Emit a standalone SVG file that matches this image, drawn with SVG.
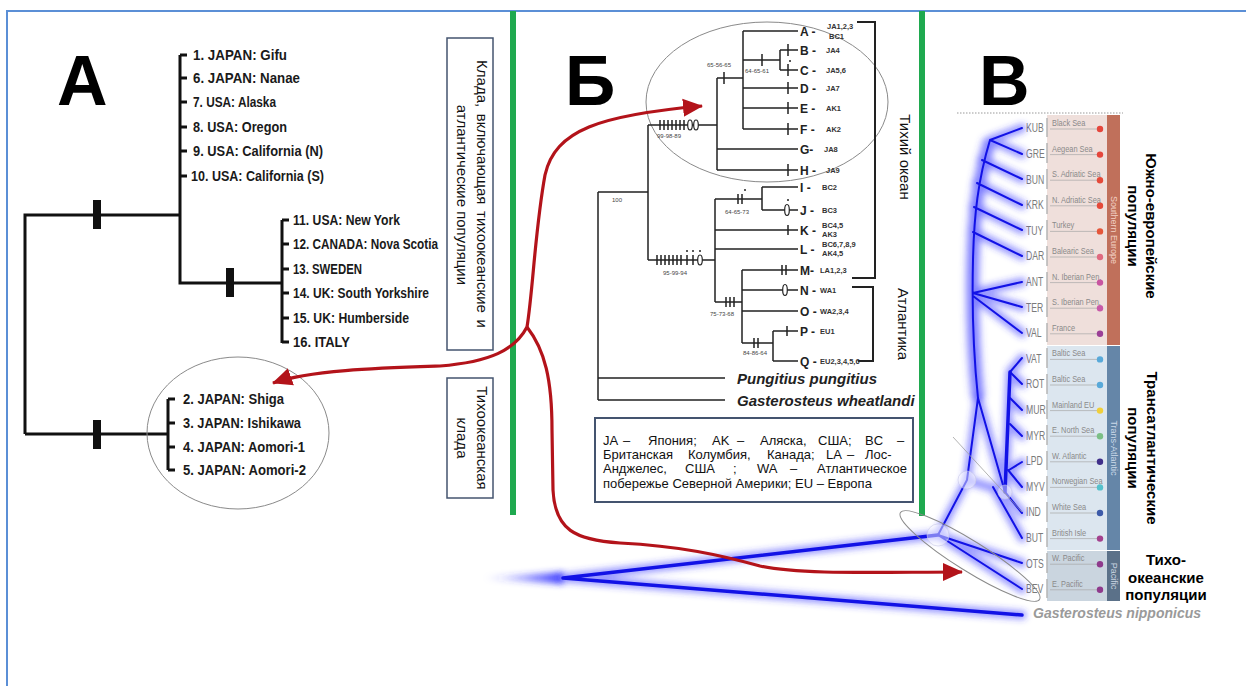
<svg xmlns="http://www.w3.org/2000/svg" width="1246" height="686" viewBox="0 0 1246 686">
<style>
.frame{fill:none;stroke:#5b8fd6;stroke-width:2}
.green{stroke:#1fa94f;stroke-width:6}
.ta{fill:none;stroke:#111;stroke-width:3}
.bar{fill:#111}
.la{font-family:"Liberation Sans",Arial,sans-serif;font-weight:bold;font-size:14px;fill:#1a1a1a}
.big{font-family:"Liberation Sans",Arial,sans-serif;font-weight:bold;font-size:70px;fill:#000}
.box{fill:#fff;stroke:#44546f;stroke-width:1.5}
.vt{font-family:"Liberation Sans",Arial,sans-serif;font-size:15px;fill:#111;text-anchor:middle}
.vtb{font-family:"Liberation Sans",Arial,sans-serif;font-size:15px;font-weight:bold;fill:#000;text-anchor:middle}
.tb{fill:none;stroke:#222;stroke-width:1.5}
.brk{fill:none;stroke:#222;stroke-width:2}
.ov{fill:#fff;stroke:#222;stroke-width:1.2}
.leaf{font-family:"Liberation Sans",Arial,sans-serif;font-weight:bold;font-size:12px;fill:#222}
.code{font-family:"Liberation Sans",Arial,sans-serif;font-weight:bold;font-size:7.5px;fill:#333}
.boot{font-family:"Liberation Sans",Arial,sans-serif;font-size:6px;fill:#444}
.sp{font-family:"Liberation Sans",Arial,sans-serif;font-weight:bold;font-style:italic;font-size:15px;fill:#222}
.leg{font-family:"Liberation Sans",Arial,sans-serif;font-size:13px;fill:#111}
.ell{fill:none;stroke:#8a8a8a;stroke-width:1}
.red{fill:none;stroke:#b3131a;stroke-width:3.2}
.glow{fill:none;stroke:#3a3aff;stroke-width:9;stroke-opacity:.5;stroke-linecap:round}
.core{fill:none;stroke:#1212e6;stroke-width:2;stroke-linecap:round}
.cthick{fill:none;stroke:#1212e6;stroke-width:3.5;stroke-linecap:round}
.cd{font-family:"Liberation Sans",Arial,sans-serif;font-size:12px;fill:#7a7a7a}
.sea{font-family:"Liberation Sans",Arial,sans-serif;font-size:9.5px;fill:#8a8a8a}
.bartxt{font-family:"Liberation Sans",Arial,sans-serif;font-size:9px;text-anchor:middle}
.uline{stroke:#a8a8a8;stroke-width:.7}
.cdiv{stroke:#b5b5b5;stroke-width:1.5}
</style>
<defs>
<marker id="ah" markerUnits="userSpaceOnUse" markerWidth="22" markerHeight="22" viewBox="0 0 22 22" refX="19" refY="11" orient="auto">
<path d="M0,2 L20,11 L0,20 z" fill="#b3131a"/>
</marker>
<filter id="blur" filterUnits="userSpaceOnUse" x="400" y="80" width="720" height="580">
<feGaussianBlur stdDeviation="3.2"/>
</filter>
<linearGradient id="tail" x1="481" y1="0" x2="563" y2="0" gradientUnits="userSpaceOnUse">
<stop offset="0" stop-color="#3a3aff" stop-opacity="0"/>
<stop offset="1" stop-color="#2a2aff" stop-opacity=".9"/>
</linearGradient>
</defs>
<rect x="0" y="0" width="1246" height="686" fill="#fff"/>
<path class="frame" d="M7,690 V11 H1250"/>
<g id="dividers">
<line class="green" x1="513" y1="11" x2="513" y2="515"/>
<line class="green" x1="922" y1="11" x2="922" y2="516"/>
</g>

<g id="panelA">
<text class="big" x="57" y="105">А</text>
<path class="ta" d="M25,434 V215 H180 M180,55 V283 H282 M282,220 V343 M25,434 H168 M168,399 V470"/>
<path class="ta" d="M180,55 H187 M180,78 H187 M180,102 H187 M180,127 H187 M180,151 H187 M180,176 H187 M282,220 H289 M282,244 H289 M282,269 H289 M282,293 H289 M282,318 H289 M282,342 H289 M168,399 H175 M168,423 H175 M168,447 H175 M168,470 H175"/>
<rect class="bar" x="93" y="200" width="8" height="29"/>
<rect class="bar" x="226" y="268" width="8" height="29"/>
<rect class="bar" x="93" y="420" width="8" height="29"/>
<g id="a-upper">
<text class="la" x="193" y="60" textLength="94" lengthAdjust="spacingAndGlyphs">1. JAPAN: Gifu</text>
<text class="la" x="193" y="83" textLength="107" lengthAdjust="spacingAndGlyphs">6. JAPAN: Nanae</text>
<text class="la" x="193" y="107" textLength="83" lengthAdjust="spacingAndGlyphs">7. USA: Alaska</text>
<text class="la" x="193" y="132" textLength="94" lengthAdjust="spacingAndGlyphs">8. USA: Oregon</text>
<text class="la" x="193" y="156" textLength="130" lengthAdjust="spacingAndGlyphs">9. USA: California (N)</text>
<text class="la" x="191" y="181" textLength="133" lengthAdjust="spacingAndGlyphs">10. USA: California (S)</text>
</g>
<g id="a-atlantic">
<text class="la" x="293" y="225" textLength="107" lengthAdjust="spacingAndGlyphs">11. USA: New York</text>
<text class="la" x="293" y="249" textLength="145" lengthAdjust="spacingAndGlyphs">12. CANADA: Nova Scotia</text>
<text class="la" x="293" y="274" textLength="69" lengthAdjust="spacingAndGlyphs">13. SWEDEN</text>
<text class="la" x="293" y="298" textLength="136" lengthAdjust="spacingAndGlyphs">14. UK: South Yorkshire</text>
<text class="la" x="293" y="323" textLength="116" lengthAdjust="spacingAndGlyphs">15. UK: Humberside</text>
<text class="la" x="293" y="347" textLength="57" lengthAdjust="spacingAndGlyphs">16. ITALY</text>
</g>
<g id="a-japan">
<ellipse class="ell" cx="238" cy="433" rx="91" ry="76"/>
<text class="la" x="183" y="404" textLength="101" lengthAdjust="spacingAndGlyphs">2. JAPAN: Shiga</text>
<text class="la" x="183" y="428" textLength="118" lengthAdjust="spacingAndGlyphs">3. JAPAN: Ishikawa</text>
<text class="la" x="183" y="452" textLength="122" lengthAdjust="spacingAndGlyphs">4. JAPAN: Aomori-1</text>
<text class="la" x="183" y="475" textLength="123" lengthAdjust="spacingAndGlyphs">5. JAPAN: Aomori-2</text>
</g>
</g>

<g id="boxClade1">
<rect class="box" x="447" y="38" width="46" height="312"/>
<text class="vt" transform="translate(476.7,194) rotate(90)" word-spacing="2.5">Клада, включающая тихоокеанские и</text>
<text class="vt" transform="translate(456.7,195) rotate(90)">атлантические популяции</text>
</g>
<g id="boxClade2">
<rect class="box" x="447" y="378" width="46" height="120"/>
<text class="vt" transform="translate(476.7,438) rotate(90)">Тихоокеанская</text>
<text class="vt" transform="translate(456.7,438) rotate(90)">клада</text>
</g>

<g id="panelB">
<text class="big" x="565" y="105">Б</text>
<ellipse class="ell" cx="767" cy="102" rx="121" ry="80"/>
<path class="tb" d="M598,192 V400 M598,192 H648 M648,125 V260 M648,125 H717 M717,78 V170 M717,78 H743 M743,31 V129 M743,31 H798 M743,60 H780 M780,50 V70 M780,50 H798 M780,70 H798 M743,88 H798 M743,108 H798 M743,129 H798 M717,149 H798 M717,170 H798"/>
<path class="tb" d="M660,120 V130 M664,120 V130 M668,120 V130 M672,120 V130 M676,120 V130 M680,120 V130 M684,120 V130 M724,72 V84 M762,54 V66 M788,44 V56 M788,64 V76 M788,82 V94 M788,102 V114 M788,123 V135 M788,164 V176"/>
<ellipse class="ov" cx="690" cy="125" rx="2.3" ry="5"/>
<ellipse class="ov" cx="696" cy="125" rx="2.3" ry="5"/>
<circle cx="790" cy="61" r="1" fill="#222"/>
<path class="tb" d="M648,260 H715 M715,199 V302 M715,199 H762 M762,187 V210 M762,187 H798 M762,210 H798 M715,230 H798 M715,249 H798 M715,302 H742 M742,270 V343 M742,270 H798 M742,290 H798 M742,311 H798 M742,343 H773 M773,331 V361 M773,331 H798 M773,361 H798 M598,378 H725 M598,400 H725"/>
<path class="tb" d="M657,255 V265 M661,255 V265 M665,255 V265 M669,255 V265 M673,255 V265 M677,255 V265 M681,255 V265 M687,255 V265 M693,255 V265 M738,194 V204 M742,194 V204 M788,225 V235 M726,297 V307 M730,297 V307 M734,297 V307 M782,265 V275 M786,265 V275 M754,338 V348 M758,338 V348 M787,326 V336"/>
<ellipse class="ov" cx="700" cy="260" rx="2.3" ry="5"/>
<ellipse class="ov" cx="787" cy="210" rx="2.3" ry="5.5"/>
<ellipse class="ov" cx="785" cy="290" rx="2.3" ry="5.5"/>
<circle cx="687" cy="251" r="1" fill="#222"/>
<circle cx="693" cy="251" r="1" fill="#222"/>
<circle cx="700" cy="251" r="1" fill="#222"/>
<circle cx="745" cy="190" r="1" fill="#222"/>
<circle cx="788" cy="200" r="1" fill="#222"/>
<polyline class="brk" points="857,22 875,22 875,278 852,278"/>
<polyline class="brk" points="852,287 873,287 873,361 858,361"/>
<g id="b-boot">
<text class="boot" x="657" y="138">99-98-89</text>
<text class="boot" x="707" y="67">65-56-65</text>
<text class="boot" x="745" y="73">64-65-61</text>
<text class="boot" x="612" y="202">100</text>
<text class="boot" x="725" y="214">64-65-73</text>
<text class="boot" x="663" y="275">95-99-94</text>
<text class="boot" x="710" y="316">75-73-68</text>
<text class="boot" x="743" y="355">84-86-64</text>
</g>
<g id="b-leaves">
<text class="leaf" x="800" y="35.5">A -</text><text class="code" x="827" y="29">JA1,2,3</text><text class="code" x="829" y="39">BC1</text>
<text class="leaf" x="800" y="54.5">B -</text><text class="code" x="826" y="53">JA4</text>
<text class="leaf" x="800" y="74.5">C -</text><text class="code" x="826" y="73">JA5,6</text>
<text class="leaf" x="800" y="92.5">D -</text><text class="code" x="826" y="91">JA7</text>
<text class="leaf" x="800" y="112.5">E -</text><text class="code" x="826" y="111">AK1</text>
<text class="leaf" x="800" y="133.5">F -</text><text class="code" x="826" y="132">AK2</text>
<text class="leaf" x="800" y="153.5">G-</text><text class="code" x="824" y="152">JA8</text>
<text class="leaf" x="800" y="174.5">H -</text><text class="code" x="826" y="173">JA9</text>
<text class="leaf" x="800" y="191.5">I -</text><text class="code" x="822" y="190">BC2</text>
<text class="leaf" x="800" y="214.5">J -</text><text class="code" x="822" y="213">BC3</text>
<text class="leaf" x="800" y="234.5">K -</text><text class="code" x="822" y="228">BC4,5</text><text class="code" x="822" y="237">AK3</text>
<text class="leaf" x="800" y="253.5">L -</text><text class="code" x="822" y="247">BC6,7,8,9</text><text class="code" x="822" y="256">AK4,5</text>
<text class="leaf" x="800" y="274.5">M-</text><text class="code" x="820" y="273">LA1,2,3</text>
<text class="leaf" x="800" y="294.5">N -</text><text class="code" x="820" y="293">WA1</text>
<text class="leaf" x="800" y="315.5">O -</text><text class="code" x="820" y="314">WA2,3,4</text>
<text class="leaf" x="800" y="335.5">P -</text><text class="code" x="820" y="334">EU1</text>
<text class="leaf" x="800" y="365.5">Q -</text><text class="code" x="820" y="364">EU2,3,4,5,6</text>
</g>
<text class="sp" x="737" y="384">Pungitius pungitius</text>
<text class="sp" x="737" y="406">Gasterosteus wheatlandi</text>
<text class="vt" transform="translate(900,157) rotate(90)">Тихий океан</text>
<text class="vt" transform="translate(898,324) rotate(90)">Атлантика</text>
</g>

<g id="legend">
<rect x="595" y="418" width="318" height="84" fill="#fff" stroke="#44546f" stroke-width="2"/>
<text class="leg" y="444.5"><tspan x="603">JA</tspan><tspan x="623">–</tspan><tspan x="648">Япония;</tspan><tspan x="712">AK</tspan><tspan x="737">–</tspan><tspan x="760">Аляска,</tspan><tspan x="818">США;</tspan><tspan x="865">BC</tspan><tspan x="897">–</tspan></text>
<text class="leg" y="458.5"><tspan x="603">Британская</tspan><tspan x="688">Колумбия,</tspan><tspan x="767">Канада;</tspan><tspan x="826">LA</tspan><tspan x="847">–</tspan><tspan x="865">Лос-</tspan></text>
<text class="leg" y="473"><tspan x="603">Анджелес,</tspan><tspan x="685">США</tspan><tspan x="733">;</tspan><tspan x="757">WA</tspan><tspan x="790">–</tspan><tspan x="817">Атлантическое</tspan></text>
<text class="leg" x="603" y="487.5">побережье Северной Америки; EU – Европа</text>
</g>

<g id="panelV">
<text class="big" x="979" y="105">В</text>
<line x1="957" y1="113" x2="1123" y2="113" stroke="#999" stroke-width="1" stroke-dasharray="1.5 1.5"/>
<g id="v-table">
<rect x="1047" y="115" width="60" height="230" fill="#efdfdb"/>
<rect x="1047" y="346" width="60" height="204" fill="#dce6ef"/>
<rect x="1047" y="551" width="60" height="50" fill="#cad5df"/>
<rect x="1107" y="115" width="13" height="230" fill="#c0705b"/>
<rect x="1107" y="346" width="13" height="204" fill="#6586a8"/>
<rect x="1107" y="551" width="13" height="50" fill="#5b7189"/>
<text class="bartxt" fill="#f4d2c6" transform="translate(1110.5,230) rotate(90)">Southern Europe</text>
<text class="bartxt" fill="#cbd9e8" transform="translate(1110.5,448) rotate(90)">Trans-Atlantic</text>
<text class="bartxt" fill="#c9d4e0" transform="translate(1110.5,576) rotate(90)">Pacific</text>
<path class="cdiv" d="M1047,118 V137 M1047,143 V163 M1047,169 V189 M1047,195 V214 M1047,220 V240 M1047,246 V266 M1047,272 V291 M1047,297 V317 M1047,323 V342 M1047,348 V368 M1047,374 V394 M1047,400 V419 M1047,425 V445 M1047,451 V470 M1047,476 V496 M1047,502 V522 M1047,528 V547 M1047,553 V573 M1047,579 V598"/>
<path class="uline" d="M1050,129 H1097 M1050,154.6 H1097 M1050,180.2 H1097 M1050,205.8 H1097 M1050,231.4 H1097 M1050,257 H1097 M1050,282.6 H1097 M1050,308.2 H1097 M1050,333.8 H1097 M1050,359.4 H1097 M1050,385 H1097 M1050,410.6 H1097 M1050,436.2 H1097 M1050,461.8 H1097 M1050,487.4 H1097 M1050,513 H1097 M1050,538.6 H1097 M1050,564.2 H1097 M1050,589.8 H1097"/>
<g transform="translate(1052,0) scale(0.78,1)">
<text class="sea" x="0" y="126">Black Sea</text>
<text class="sea" x="0" y="151.6">Aegean Sea</text>
<text class="sea" x="0" y="177.2">S. Adriatic Sea</text>
<text class="sea" x="0" y="202.8">N. Adriatic Sea</text>
<text class="sea" x="0" y="228.4">Turkey</text>
<text class="sea" x="0" y="254">Balearic Sea</text>
<text class="sea" x="0" y="279.6">N. Iberian Pen.</text>
<text class="sea" x="0" y="305.2">S. Iberian Pen.</text>
<text class="sea" x="0" y="330.8">France</text>
<text class="sea" x="0" y="356.4">Baltic Sea</text>
<text class="sea" x="0" y="382">Baltic Sea</text>
<text class="sea" x="0" y="407.6">Mainland EU</text>
<text class="sea" x="0" y="433.2">E. North Sea</text>
<text class="sea" x="0" y="458.8">W. Atlantic</text>
<text class="sea" x="0" y="484.4">Norwegian Sea</text>
<text class="sea" x="0" y="510">White Sea</text>
<text class="sea" x="0" y="535.6">British Isle</text>
<text class="sea" x="0" y="561.2">W. Pacific</text>
<text class="sea" x="0" y="586.8">E. Pacific</text>
</g>
<g transform="translate(1026,0) scale(0.72,1)">
<text class="cd" x="0" y="132.5">KUB</text>
<text class="cd" x="0" y="158.1">GRE</text>
<text class="cd" x="0" y="183.7">BUN</text>
<text class="cd" x="0" y="209.3">KRK</text>
<text class="cd" x="0" y="234.9">TUY</text>
<text class="cd" x="0" y="260.5">DAR</text>
<text class="cd" x="0" y="286.1">ANT</text>
<text class="cd" x="0" y="311.7">TER</text>
<text class="cd" x="0" y="337.3">VAL</text>
<text class="cd" x="0" y="362.9">VAT</text>
<text class="cd" x="0" y="388.5">ROT</text>
<text class="cd" x="0" y="414.1">MUR</text>
<text class="cd" x="0" y="439.7">MYR</text>
<text class="cd" x="0" y="465.3">LPD</text>
<text class="cd" x="0" y="490.9">MYV</text>
<text class="cd" x="0" y="516.5">IND</text>
<text class="cd" x="0" y="542.1">BUT</text>
<text class="cd" x="0" y="567.7">OTS</text>
<text class="cd" x="0" y="593.3">BEV</text>
</g>
<g id="v-dots">
<circle cx="1100" cy="129" r="3.2" fill="#e5463c"/>
<circle cx="1100" cy="154.6" r="3.2" fill="#e5463c"/>
<circle cx="1100" cy="180.2" r="3.2" fill="#e54a3a"/>
<circle cx="1100" cy="205.8" r="3.2" fill="#e54a3a"/>
<circle cx="1100" cy="231.4" r="3.2" fill="#e5563a"/>
<circle cx="1100" cy="257" r="3.2" fill="#e06a80"/>
<circle cx="1100" cy="282.6" r="3.2" fill="#c855a0"/>
<circle cx="1100" cy="308.2" r="3.2" fill="#c85aa8"/>
<circle cx="1100" cy="333.8" r="3.2" fill="#9b3f96"/>
<circle cx="1100" cy="359.4" r="3.2" fill="#58a9d9"/>
<circle cx="1100" cy="385" r="3.2" fill="#58a9d9"/>
<circle cx="1100" cy="410.6" r="3.2" fill="#f0cf3a"/>
<circle cx="1100" cy="436.2" r="3.2" fill="#7cbf86"/>
<circle cx="1100" cy="461.8" r="3.2" fill="#3f2f8a"/>
<circle cx="1100" cy="487.4" r="3.2" fill="#55c1cc"/>
<circle cx="1100" cy="513" r="3.2" fill="#3c5aa8"/>
<circle cx="1100" cy="538.6" r="3.2" fill="#a3418e"/>
<circle cx="1100" cy="564.2" r="3.2" fill="#8e3a8c"/>
<circle cx="1100" cy="589.8" r="3.2" fill="#8e3a8c"/>
</g>
</g>
<g id="v-tree">
<polygon points="481,578 563,572 563,584" fill="url(#tail)" filter="url(#blur)"/>
<g filter="url(#blur)">
<path class="glow" d="M563,578 L938,535 M563,578 L1022,615 M938,535 L1022,563 M938,535 L1022,589 M938,535 L967,480 L978,398 M978,398 L1005,492 M967,480 L1005,492 M1005,492 L1010,372 M1010,372 L1022,358 M1010,372 L1022,384 M1010,398 L1022,410 M1010,424 L1022,436 M1009,470 L1022,462 M1008,470 L1022,487 M1005,492 L1022,513 M993,487 L1022,538"/>
<path class="glow" d="M978,398 C973,350 972,300 973,260 C974,215 978,180 990,140 M990,140 L1022,128 M990,140 L1022,154 M982,160 L1022,179 M977,183 L1022,205 M974,207 L1022,230 M973,232 L1022,256 M973,293 L1022,282 M973,293 L1022,307 M973,296 L1022,333"/>
<path d="M978,398 C973,350 972,300 973,260 C974,215 978,180 990,140" fill="none" stroke="#4a4aff" stroke-width="16" stroke-opacity=".35"/>
</g>
<path class="cthick" d="M563,578 L938,535 M563,578 L1022,615 M1005,492 L1010,372"/>
<path class="core" d="M938,535 L1022,563 M938,535 L1022,589 M938,535 L967,480 L978,398 M978,398 L1005,492 M1010,372 L1022,358 M1010,372 L1022,384 M1010,398 L1022,410 M1010,424 L1022,436 M1009,470 L1022,462 M1008,470 L1022,487 M1005,492 L1022,513 M993,487 L1022,538"/>
<path class="core" d="M978,398 C973,350 972,300 973,260 C974,215 978,180 990,140 M990,140 L1022,128 M990,140 L1022,154 M982,160 L1022,179 M977,183 L1022,205 M974,207 L1022,230 M973,232 L1022,256 M973,293 L1022,282 M973,293 L1022,307 M973,296 L1022,333"/>
<circle cx="938" cy="535" r="11" fill="#fff" fill-opacity=".45" stroke="#c8c8e8" stroke-width=".6"/>
<circle cx="967" cy="480" r="9" fill="#fff" fill-opacity=".45" stroke="#c8c8e8" stroke-width=".6"/>
<circle cx="1005" cy="492" r="7" fill="#fff" fill-opacity=".45" stroke="#c8c8e8" stroke-width=".6"/>
<line x1="953" y1="437" x2="1022" y2="512" stroke="#a0a0a0" stroke-width=".8"/>
<ellipse class="ell" cx="970" cy="556" rx="82" ry="15" transform="rotate(32 970 556)"/>
</g>
<text x="1033" y="618" font-family="Liberation Sans, Arial, sans-serif" font-weight="bold" font-style="italic" font-size="14" fill="#9a9a9a">Gasterosteus nipponicus</text>
<g id="v-labels">
<text class="vtb" transform="translate(1145.5,226) rotate(90)">Южно-европейские</text>
<text class="vtb" transform="translate(1127.5,226) rotate(90)">популяции</text>
<text class="vtb" transform="translate(1146.5,448) rotate(90)">Трансатлантические</text>
<text class="vtb" transform="translate(1127.5,448) rotate(90)">популяции</text>
<text class="vtb" x="1166" y="565">Тихо-</text>
<text class="vtb" x="1166" y="582.5">океанские</text>
<text class="vtb" x="1166" y="600">популяции</text>
</g>
</g>

<g id="connectors">
<path class="red" marker-end="url(#ah)" d="M527,327 C515,350 490,362 440,366 C380,368 310,370 273,383"/>
<path class="red" marker-end="url(#ah)" d="M527,327 C533,290 535,230 545,175 C555,130 600,115 702,106"/>
<path class="red" marker-end="url(#ah)" d="M527,327 C545,350 552,380 552,430 L553,490 C555,530 575,540 620,543 C680,546 720,555 760,566 C800,575 880,572 962,572"/>
</g>
</svg>
